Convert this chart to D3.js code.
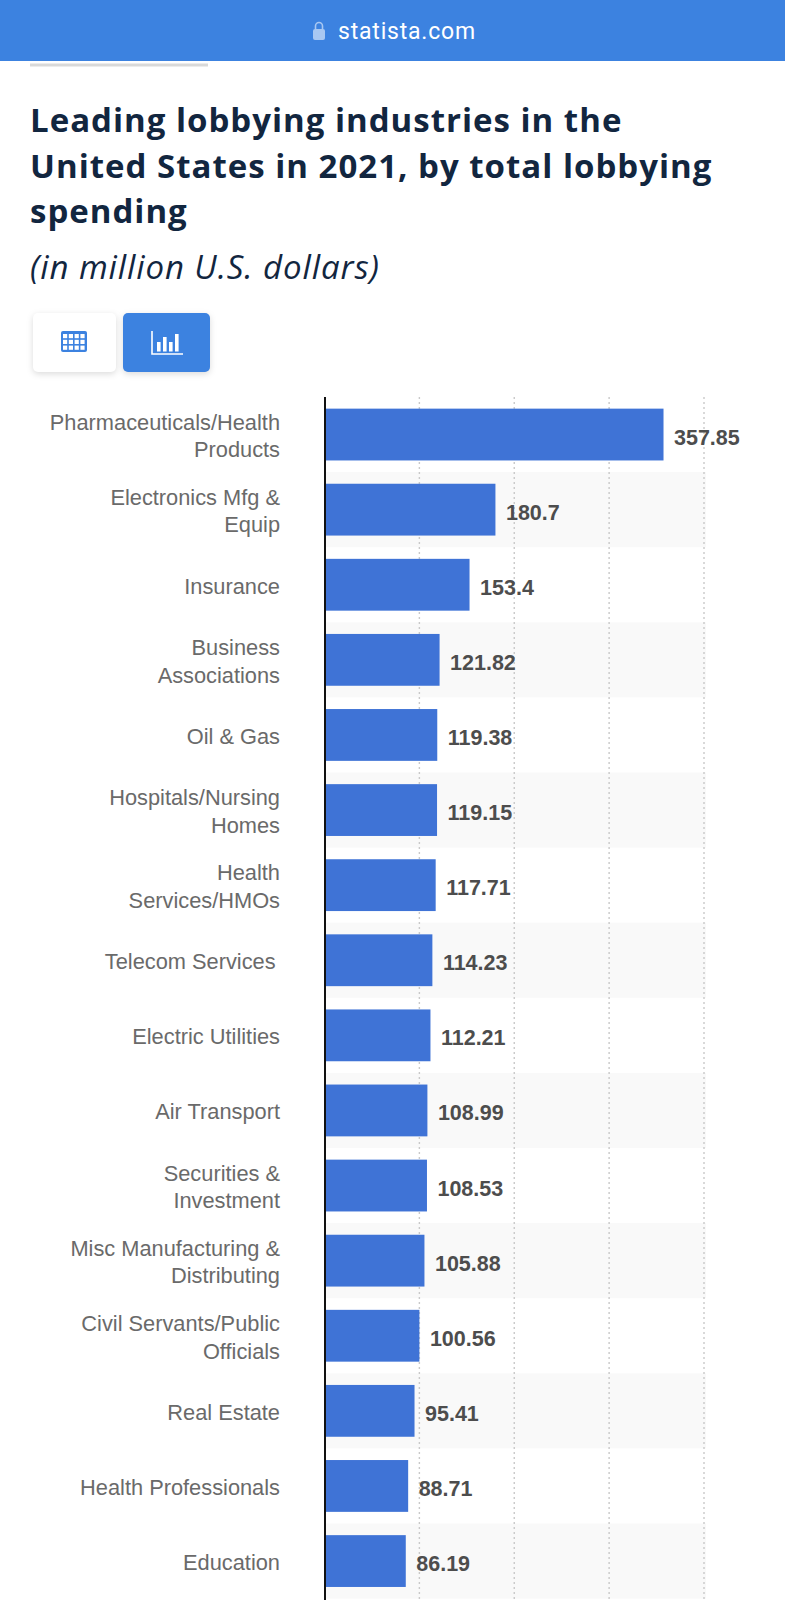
<!DOCTYPE html>
<html lang="en">
<head>
    <meta charset="UTF-8">
    <title>Leading lobbying industries</title>
    <script src="https://d3js.org/d3.v7.min.js"></script>
    <style>
        html, body { margin: 0; padding: 0; background: #fff; }
        svg { display: block; }
        .shadow { filter: drop-shadow(0 2px 3px rgba(0,0,0,0.14)); }
    </style>
</head>
<body>
    <svg width="785" height="1600"></svg>

    <script>
        // Data
        const categories = [
            "Pharmaceuticals/Health\nProducts", "Electronics Mfg &\nEquip", "Insurance",
            "Business\nAssociations", "Oil & Gas", "Hospitals/Nursing\nHomes",
            "Health\nServices/HMOs", "Telecom Services\u2009", "Electric Utilities",
            "Air Transport", "Securities &\nInvestment", "Misc Manufacturing &\nDistributing",
            "Civil Servants/Public\nOfficials", "Real Estate", "Health Professionals", "Education"
        ];
        const values = [357.85, 180.7, 153.4, 121.82, 119.38, 119.15, 117.71, 114.23,
            112.21, 108.99, 108.53, 105.88, 100.56, 95.41, 88.71, 86.19];
        const gridTicks = [100, 200, 300, 400];
        const titleLines = ["Leading lobbying industries in the", "United States in 2021, by total lobbying", "spending"];
        const subtitle = "(in million U.S. dollars)";

        const svg = d3.select("svg");
        const plot = { left: 324, axis: 325, right: 706, top: 397, bottom: 1598.6 };

        const x = d3.scaleLinear().domain([0, 400]).range([plot.left, 703.5]);
        const y = d3.scaleBand().domain(categories).range([plot.top, plot.bottom]).paddingInner(0.31).paddingOuter(0.155);

        // Top bar
        svg.append("rect").attr("width", 785).attr("height", 61).attr("fill", "#3c82e0");
        svg.append("rect").attr("x", 313).attr("y", 29).attr("width", 12).attr("height", 11).attr("rx", 2).attr("fill", "#a9c8f2");
        svg.append("path").attr("d", "M315.5 29v-3a3.5 3.5 0 0 1 7 0v3").attr("fill", "none").attr("stroke", "#a9c8f2").attr("stroke-width", 1.6);
        svg.append("text").attr("x", 338).attr("y", 39).attr("font-family", "Roboto").attr("font-size", 23)
            .attr("letter-spacing", 0.8).attr("fill", "#fff").text("statista.com");
        svg.append("rect").attr("x", 30).attr("y", 63.5).attr("width", 178).attr("height", 3).attr("fill", "#d9d9d9");

        // Title
        svg.append("g").selectAll("text").data(titleLines).enter().append("text")
            .attr("x", 30).attr("y", (d, i) => 132 + i * 45.5)
            .attr("font-family", "Open Sans").attr("font-weight", 700).attr("font-size", 33)
            .attr("letter-spacing", 1).attr("fill", "#12263f").text(d => d);
        svg.append("text").attr("x", 30).attr("y", 279)
            .attr("font-family", "Open Sans").attr("font-style", "italic").attr("font-weight", 400).attr("font-size", 33)
            .attr("letter-spacing", 0.9).attr("fill", "#12263f").text(subtitle);

        // Buttons
        svg.append("rect").attr("class", "shadow").attr("x", 33).attr("y", 313).attr("width", 83).attr("height", 59).attr("rx", 5).attr("fill", "#fff");
        svg.append("rect").attr("class", "shadow").attr("x", 123).attr("y", 313).attr("width", 87).attr("height", 59).attr("rx", 5).attr("fill", "#3c82e0");
        const tableIcon = svg.append("g").attr("transform", "translate(61,331)");
        tableIcon.append("rect").attr("width", 26).attr("height", 21).attr("rx", 2).attr("fill", "#3c82e0");
        d3.range(3).forEach(r => d3.range(4).forEach(c => {
            tableIcon.append("rect").attr("x", 2 + c * 5.8).attr("y", 3 + r * 5.8).attr("width", 4.2).attr("height", 4.2).attr("fill", "#fff");
        }));
        const barIcon = svg.append("g").attr("transform", "translate(151,331)").attr("fill", "#fff");
        barIcon.append("path").attr("d", "M1 0V23H32").attr("fill", "none").attr("stroke", "#fff").attr("stroke-width", 1.6);
        [[6, 11], [12, 6], [18, 11], [24, 3]].forEach(b => {
            barIcon.append("rect").attr("x", b[0]).attr("y", b[1]).attr("width", 3.6).attr("height", 20.5 - b[1]);
        });

        // Alternating stripes
        svg.append("g").selectAll("rect").data(categories.filter((d, i) => i % 2 === 1)).enter().append("rect")
            .attr("x", plot.axis).attr("width", plot.right - plot.axis)
            .attr("y", d => y(d) + y.bandwidth() / 2 - y.step() / 2)
            .attr("height", y.step()).attr("fill", "#f9f9f9");

        // Dotted grid
        const grid = svg.append("g").attr("transform", `translate(0,${plot.top})`)
            .call(d3.axisTop(x).tickValues(gridTicks).tickSize(-(1600 - plot.top)).tickFormat(""));
        grid.select(".domain").remove();
        grid.selectAll("line").attr("stroke", "#c9c9c9").attr("stroke-width", 1.4).attr("stroke-dasharray", "2,3");

        // Bars
        svg.append("g").selectAll("rect").data(values).enter().append("rect")
            .attr("x", x(0)).attr("y", (d, i) => y(categories[i]))
            .attr("width", d => x(d) - x(0)).attr("height", y.bandwidth())
            .attr("fill", "#3f73d6");

        // Category axis
        const yAxis = svg.append("g").attr("transform", `translate(${plot.axis},0)`)
            .call(d3.axisLeft(y).tickSize(0).tickPadding(45).tickFormat(""));
        yAxis.select(".domain").remove();
        svg.append("line").attr("x1", plot.axis).attr("x2", plot.axis).attr("y1", plot.top).attr("y2", 1600)
            .attr("stroke", "#111").attr("stroke-width", 2);
        yAxis.selectAll(".tick").each(function (d) {
            const lines = d.split("\n");
            const t = d3.select(this).select("text").attr("x", -45).attr("y", 0).attr("dy", null)
                .attr("font-family", "Liberation Sans").attr("font-size", 21.8).attr("fill", "#6a6a6a");
            lines.forEach((l, i) => {
                t.append("tspan").attr("x", -45)
                    .attr("y", 9 + (i - (lines.length - 1) / 2) * 27.5).text(l);
            });
        });

        // Value labels
        svg.append("g").selectAll("text").data(values).enter().append("text")
            .attr("x", d => x(d) + 10.5).attr("y", (d, i) => y(categories[i]) + y.bandwidth() / 2 + 10)
            .attr("font-family", "Liberation Sans").attr("font-weight", 700).attr("font-size", 21.5)
            .attr("fill", "#4d4d4d").text(d => d);
    </script>
</body>
</html>
